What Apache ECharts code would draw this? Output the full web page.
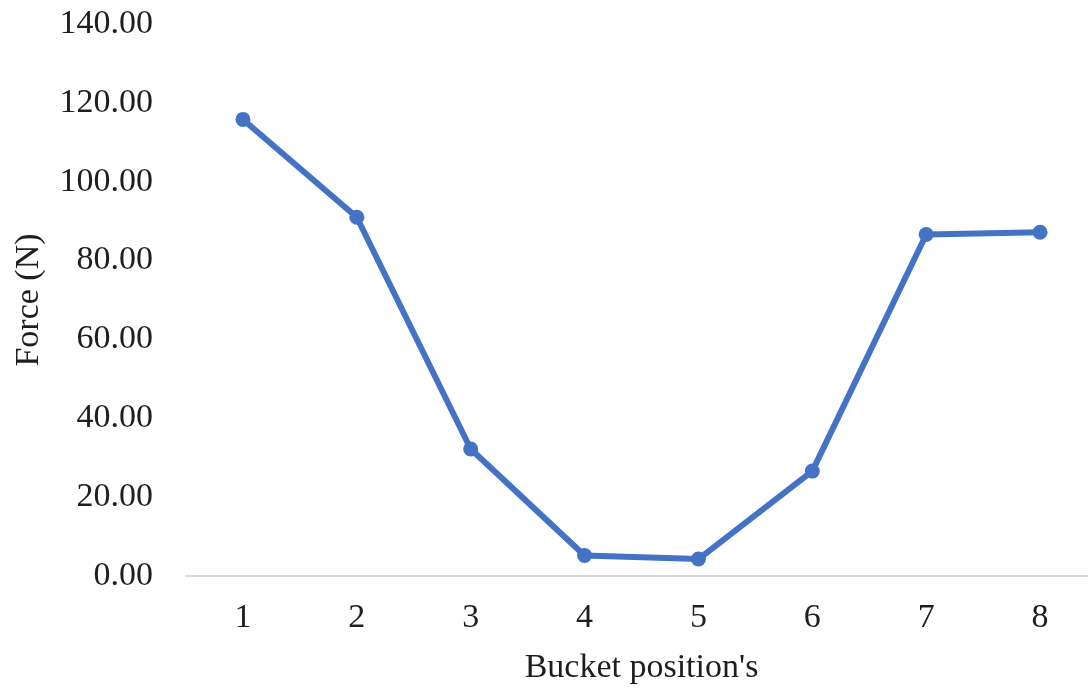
<!DOCTYPE html>
<html>
<head>
<meta charset="utf-8">
<script src="https://cdn.jsdelivr.net/npm/echarts@6/dist/echarts.min.js"></script>
<style>
  html, body { margin: 0; padding: 0; background: #ffffff; }
  #chart { width: 1088px; height: 688px; }
</style>
</head>
<body>
<div id="chart"></div>
<script>
// Bucket positions along the wheel and the measured force at each one
const positions = ['1', '2', '3', '4', '5', '6', '7', '8'];
const forceN = [115.8, 91.0, 32.2, 5.2, 4.3, 26.6, 86.6, 87.2];
const yTicks = { min: 0, max: 140, step: 20 };

const textFont = '"Liberation Serif", "Times New Roman", serif';
const textColor = '#1e1e1e';

const chart = echarts.init(document.getElementById('chart'), null, { renderer: 'canvas' });
chart.setOption({
  animation: false,
  backgroundColor: '#ffffff',
  grid: {
    left: 186, right: -9, top: 24, bottom: 112,
    containLabel: false,
    outerBoundsMode: 'none'
  },
  xAxis: {
    type: 'category',
    data: positions,
    boundaryGap: true,
    name: "Bucket position's",
    nameLocation: 'middle',
    nameGap: 75,
    nameTextStyle: { fontFamily: textFont, fontSize: 34, color: textColor },
    axisLine: { show: true, lineStyle: { color: '#d9d9d9', width: 2 } },
    axisTick: { show: false },
    axisLabel: { fontFamily: textFont, fontSize: 34, color: textColor, margin: 25 },
    splitLine: { show: false }
  },
  yAxis: {
    type: 'value',
    min: yTicks.min,
    max: yTicks.max,
    interval: yTicks.step,
    name: 'Force (N)',
    nameLocation: 'middle',
    nameGap: 140,
    nameRotate: 90,
    nameTextStyle: { fontFamily: textFont, fontSize: 34, color: textColor },
    axisLine: { show: false },
    axisTick: { show: false },
    splitLine: { show: false },
    axisLabel: {
      fontFamily: textFont, fontSize: 34, color: textColor, margin: 33,
      formatter: v => v.toFixed(2)
    }
  },
  series: [{
    type: 'line',
    data: forceN,
    symbol: 'circle',
    symbolSize: 15,
    lineStyle: { color: '#4472C4', width: 6 },
    itemStyle: { color: '#4472C4' }
  }]
});
</script>
</body>
</html>
